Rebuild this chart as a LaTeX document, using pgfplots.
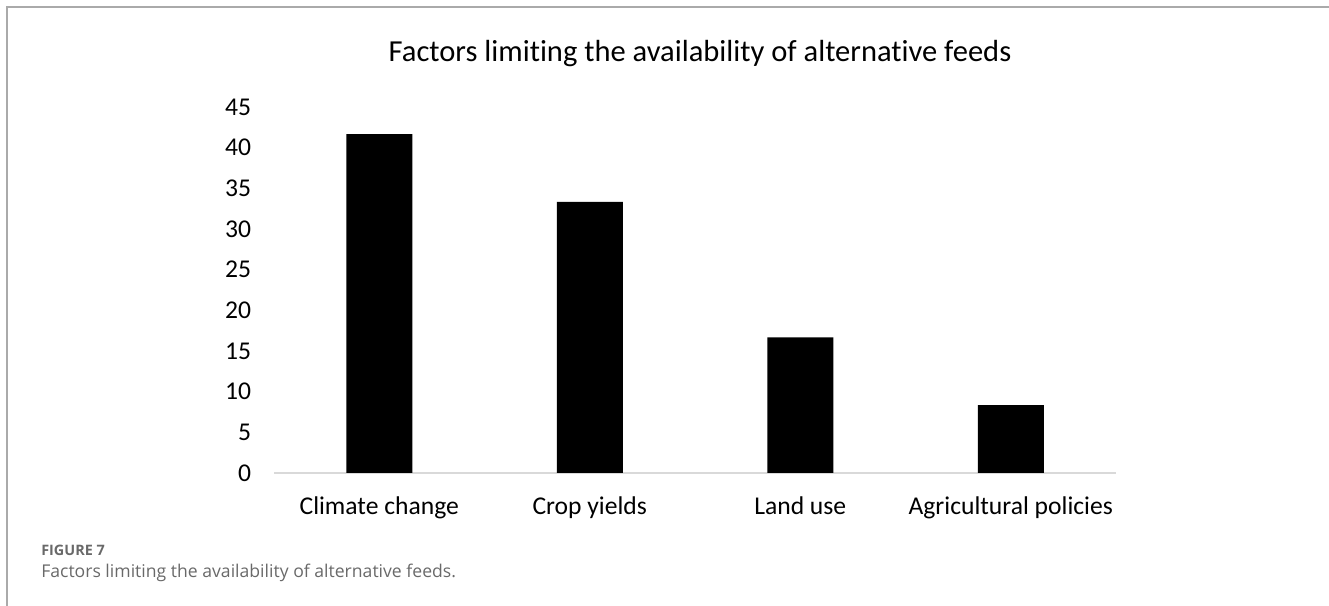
\documentclass[border=0pt]{standalone}
\usepackage{fontspec}
\setmainfont{Carlito}[RawFeature=-liga]
\newfontfamily\capfont{Open Sans}
\usepackage{pgfplots}
\pgfplotsset{compat=1.18}

\definecolor{framegray}{RGB}{170,170,170}
\definecolor{axisgray}{RGB}{217,217,217}
\definecolor{captext}{RGB}{105,105,105}

\pgfplotstableread{
x  share
0  41.67
1  33.33
2  16.67
3  8.33
}\feedfactors

\begin{document}
\begin{tikzpicture}[x=0.75pt,y=0.75pt]
% page area and thin frame lines
\path[use as bounding box] (0,0) rectangle (1329,606);
\draw[framegray, line width=0.9pt] (7,0) -- (7,599) -- (1329,599);

% chart title
\node[anchor=base, font=\fontsize{22.9}{26}\selectfont, inner sep=0pt] at (700,544) {Factors limiting the availability of alternative feeds};

\begin{axis}[
  at={(205.5pt,99.75pt)}, anchor=south west,
  width=631.5pt, height=274.5pt, scale only axis,
  xmin=-0.5, xmax=3.5, ymin=0, ymax=45,
  ytick={0,5,...,45},
  xtick={0,1,2,3},
  xticklabels={Climate change, Crop yields, Land use, Agricultural policies},
  axis x line*=bottom, axis y line*=left,
  x axis line style={draw=axisgray, line width=0.9pt, -},
  y axis line style={draw=none},
  major tick length=0pt,
  tick style={draw=none},
  /pgf/number format/assume math mode=true,
  ticklabel style={font=\fontsize{19.2}{22}\selectfont},
  xticklabel style={anchor=base, inner sep=0pt, yshift=-31pt},
  yticklabel style={anchor=east, inner sep=0pt, xshift=-17pt},
  ybar, bar width=49.5pt,
  clip=false,
]
\addplot[fill=black, draw=none, bar shift=0pt] table[x=x, y=share] {\feedfactors};
\end{axis}

% caption below the chart
\node[anchor=base west, inner sep=0pt, text=captext, font=\capfont\bfseries\fontsize{10.8}{12}\selectfont] at (41,50) {FIGURE 7};
\node[anchor=base west, inner sep=0pt, text=captext, font=\capfont\fontsize{13.2}{15}\selectfont] at (41,28) {Factors limiting the availability of alternative feeds.};
\end{tikzpicture}
\end{document}
